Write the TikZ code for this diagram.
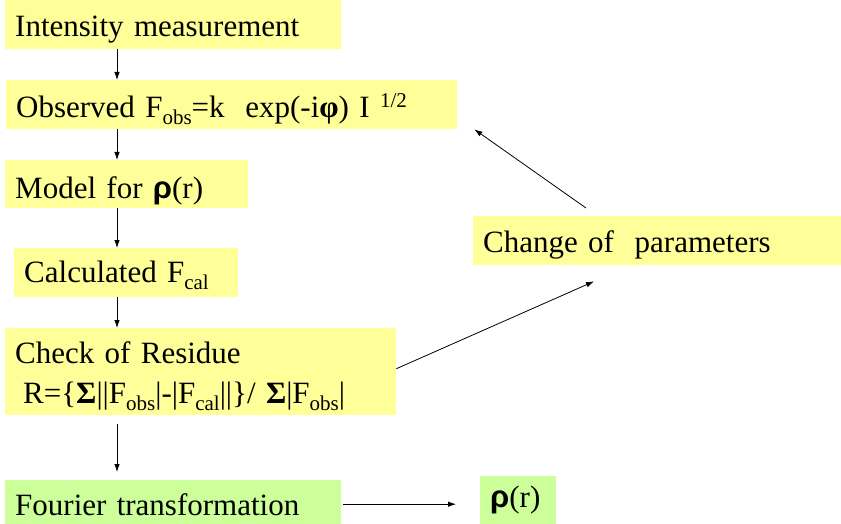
\documentclass[tikz,border=0pt]{standalone}
\usepackage{fontspec}
\setmainfont{Liberation Serif}
\newfontfamily\rhofont{Liberation Sans}
\usetikzlibrary{arrows.meta}
\definecolor{boxyellow}{RGB}{255,255,153}
\definecolor{boxgreen}{RGB}{204,255,153}
\newcommand{\lowsub}[1]{\raisebox{-0.22em}{\fontsize{21}{21}\selectfont #1}}
\newcommand{\highsup}[1]{\raisebox{0.3em}{\fontsize{21}{21}\selectfont #1}}
\newcommand{\rhosym}{{\rhofont\bfseries ρ}}
\tikzset{
  box/.style={anchor=north west, inner xsep=10pt, inner ysep=0pt, align=left, font=\fontsize{31}{40}\selectfont},
  ybox/.style={box, fill=boxyellow},
  gbox/.style={box, fill=boxgreen},
  flow/.style={-{Latex[length=8pt,width=5.5pt]}, line width=0.8pt}
}
\begin{document}
\begin{tikzpicture}[x=1pt,y=-1pt]
            \useasboundingbox (0,0) rectangle (841,524);

            \node[ybox, text width=316pt, text height=36pt, text depth=13pt] (intens) at (5,0) {Intensity measurement};
            \node[ybox, text width=431pt, text height=37pt, text depth=12pt] (observed) at (6,80) {Observed F\lowsub{obs}=k\ \ exp(-i\textbf{φ}) I \highsup{1/2}};
            \node[ybox, text width=223pt, text height=38pt, text depth=10pt] (model) at (5,160) {Model for \rhosym(r)};
            \node[ybox, text width=204pt, text height=34pt, text depth=15pt] (calc) at (14,248) {Calculated F\lowsub{cal}};
            \node[ybox, text width=371pt, text height=35pt, text depth=52pt] (check) at (5,328) {Check of Residue\\\hspace*{8pt}R=\{\textbf{Σ}||F\lowsub{obs}|-|F\lowsub{cal}||\}/ \textbf{Σ}|F\lowsub{obs}|};
            \node[gbox, text width=316pt, text height=35pt, text depth=9pt] (fourier) at (5,480) {Fourier transformation};
            \node[gbox, text width=56pt, text height=31pt, text depth=17pt] (rho) at (480,476) {\rhosym(r)};
            \node[ybox, text width=348pt, text height=36pt, text depth=13pt] (change) at (473,216) {Change of\ \ parameters};

            \coordinate (col) at (117,0);
            \draw[flow] (intens.south -| col) -- (observed.north -| col);
            \draw[flow] (observed.south -| col) -- (model.north -| col);
            \draw[flow] (model.south -| col) -- (calc.north -| col);
            \draw[flow] (calc.south -| col) -- (check.north -| col);
            \draw[flow, shorten <=9pt, shorten >=8pt] (check.south -| col) -- (fourier.north -| col);
            \draw[flow, shorten <=2pt, shorten >=24pt] ([yshift=-2pt]fourier.east) -- ([yshift=-2pt]rho.west |- fourier.east);

            \draw[flow] ([xshift=113pt,yshift=8pt]change.north west) -- ([xshift=17pt]observed.south east);
            \draw[flow] ([yshift=3pt]check.east) -- ([xshift=121pt,yshift=-16pt]change.south west);
        \end{tikzpicture}
\end{document}
